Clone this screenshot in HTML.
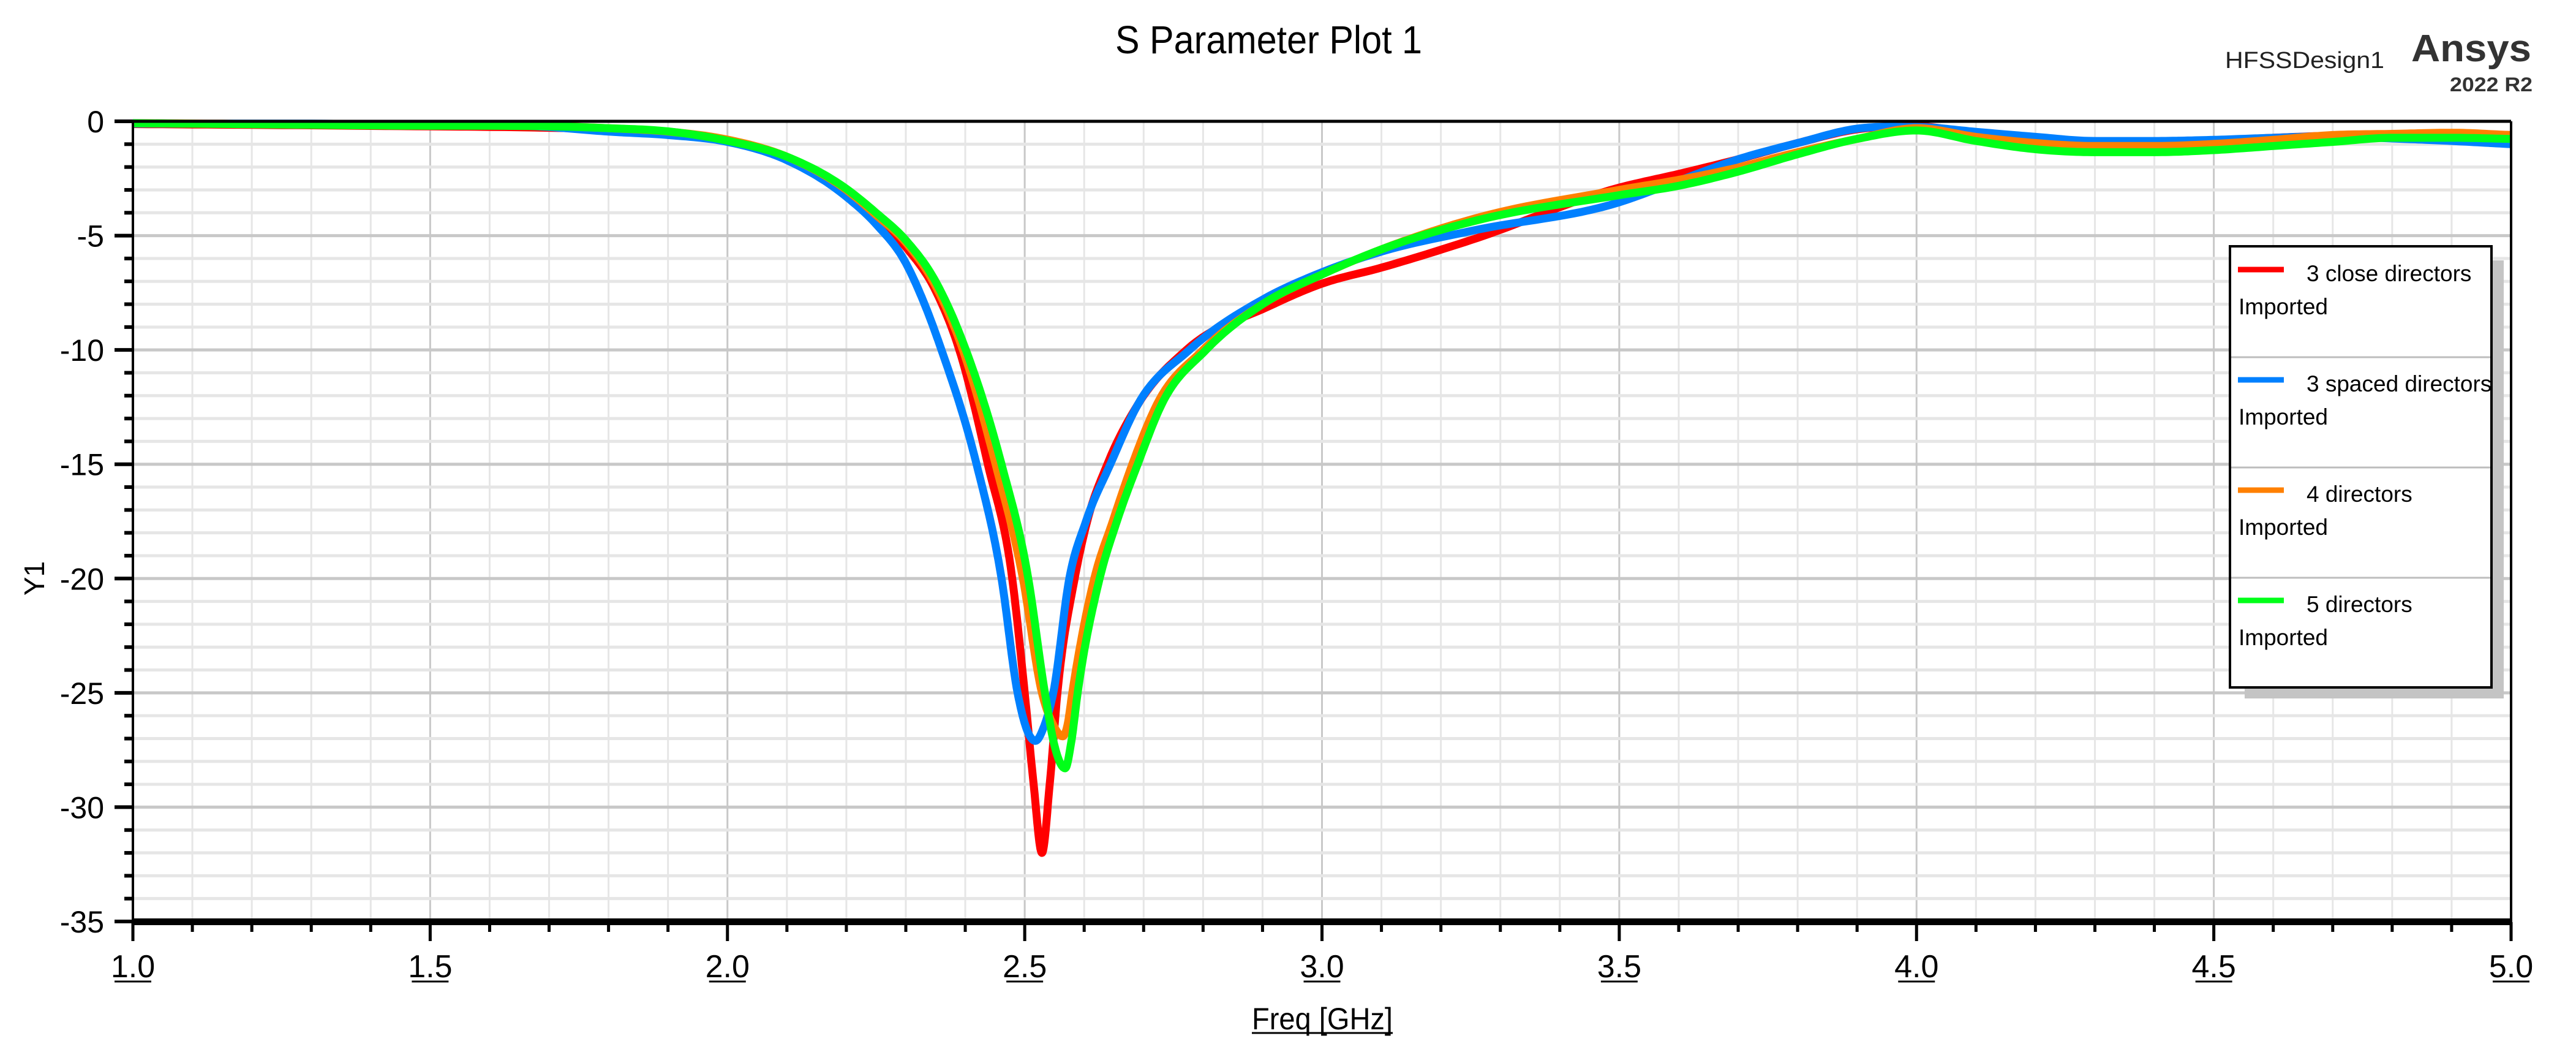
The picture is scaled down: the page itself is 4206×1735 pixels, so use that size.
<!DOCTYPE html>
<html><head><meta charset="utf-8"><style>
html,body{margin:0;padding:0;background:#fff}
svg{display:block}
.n{font-family:"Liberation Sans Narrow","Liberation Sans",sans-serif}
.r{font-family:"Liberation Sans",sans-serif}
</style></head><body>
<svg id="chart" width="4206" height="1735" viewBox="0 0 4206 1735" xmlns="http://www.w3.org/2000/svg">
<rect width="4206" height="1735" fill="#fff"/>
<text class="n" x="1821" y="87" font-size="64" textLength="501" lengthAdjust="spacingAndGlyphs">S Parameter Plot 1</text>
<text class="r" x="3633" y="111" font-size="38" fill="#222" textLength="260" lengthAdjust="spacingAndGlyphs">HFSSDesign1</text>
<text class="r" x="3937" y="100" font-size="62" font-weight="bold" fill="#333" textLength="196" lengthAdjust="spacingAndGlyphs">Ansys</text>
<text class="r" x="4000" y="149" font-size="32" font-weight="bold" fill="#333" textLength="135" lengthAdjust="spacingAndGlyphs">2022 R2</text>
<g id="grid"></g>
<g id="series"></g>
<g id="axes"></g>
<g id="legend"></g>
<text class="n" x="2044" y="1680" font-size="50" textLength="230" lengthAdjust="spacingAndGlyphs">Freq [GHz]</text>
<line x1="2044" y1="1686" x2="2274" y2="1686" stroke="#000" stroke-width="3"/>
<text class="n" font-size="46" transform="translate(72,944) rotate(-90)" text-anchor="middle">Y1</text>
</svg>
<script>
const xTicks=[1.0,1.5,2.0,2.5,3.0,3.5,4.0,4.5,5.0];
const xTickLabels=["1.0","1.5","2.0","2.5","3.0","3.5","4.0","4.5","5.0"];
const yTicks=[0,-5,-10,-15,-20,-25,-30,-35];
const yTickLabels=["0","-5","-10","-15","-20","-25","-30","-35"];
const seriesNames=["3 close directors","3 spaced directors","4 directors","5 directors"];
const seriesColors=["#ff0000","#0080ff","#ff8000","#00ff18"];
const redF=[1.0,1.4,1.8,1.9,2.0,2.1,2.2,2.25,2.3,2.35,2.39,2.438,2.479,2.5,2.515,2.529,2.542,2.555,2.584,2.605,2.639,2.69,2.772,2.91,3.0,3.1,3.25,3.5,3.6,3.7,3.8,3.9,4.0,4.1,4.2,4.3,4.4,4.5,4.6,4.7,4.8,4.9,5.0];
const redV=[-0.12,-0.2,-0.35,-0.45,-0.85,-1.6,-3.1,-4.2,-5.5,-7.4,-10,-15,-20,-25,-29,-32,-29,-25,-20,-17.5,-15,-12.4,-10,-8.1,-7.1,-6.4,-5.2,-2.9,-2.3,-1.66,-0.95,-0.35,-0.22,-0.55,-0.9,-1.0,-0.95,-0.85,-0.72,-0.63,-0.6,-0.55,-0.6];
const blueF=[1.0,1.4,1.7,1.8,1.9,2.0,2.1,2.2,2.25,2.3,2.33,2.36,2.419,2.461,2.488,2.505,2.518,2.532,2.548,2.575,2.603,2.644,2.69,2.777,2.9,3.0,3.1,3.25,3.5,3.6,3.7,3.8,3.9,4.0,4.1,4.2,4.3,4.4,4.5,4.6,4.7,4.8,4.9,5.0];
const blueV=[-0.1,-0.12,-0.25,-0.45,-0.6,-0.9,-1.7,-3.3,-4.5,-6.2,-7.9,-10,-15,-20,-25,-26.7,-27.1,-26.5,-25,-20,-17.5,-15,-12.4,-10,-7.8,-6.6,-5.7,-4.8,-3.54,-2.6,-1.66,-0.95,-0.32,-0.25,-0.46,-0.68,-0.86,-0.86,-0.81,-0.72,-0.65,-0.75,-0.86,-1.0];
const orangeF=[1.0,1.4,1.8,1.9,2.0,2.1,2.2,2.25,2.3,2.35,2.396,2.451,2.497,2.529,2.548,2.564,2.572,2.58,2.617,2.648,2.681,2.722,2.8,2.9,3.0,3.1,3.25,3.5,3.6,3.7,3.8,3.9,4.0,4.1,4.2,4.3,4.4,4.5,4.6,4.7,4.8,4.9,5.0];
const orangeV=[-0.08,-0.15,-0.3,-0.45,-0.8,-1.55,-3.0,-4.1,-5.3,-7.2,-10,-15,-20,-25,-26.4,-26.9,-26.4,-25,-20,-17.5,-15,-12.4,-10,-8,-6.7,-5.6,-4.3,-3.0,-2.56,-2.02,-1.35,-0.77,-0.3,-0.68,-0.95,-1.08,-1.08,-0.99,-0.81,-0.6,-0.55,-0.5,-0.6];
const greenF=[1.0,1.4,1.8,1.9,2.0,2.1,2.2,2.25,2.3,2.35,2.401,2.461,2.506,2.534,2.55,2.568,2.578,2.589,2.626,2.655,2.69,2.73,2.805,2.9,3.0,3.1,3.25,3.5,3.6,3.7,3.8,3.9,4.0,4.1,4.2,4.3,4.4,4.5,4.6,4.7,4.8,4.9,5.0];
const greenV=[-0.08,-0.18,-0.3,-0.44,-0.85,-1.55,-2.95,-4.0,-5.2,-7.0,-10,-15,-20,-25,-27.3,-28.3,-27.2,-25,-20,-17.5,-15,-12.4,-10,-8,-6.7,-5.6,-4.4,-3.23,-2.82,-2.2,-1.44,-0.77,-0.4,-0.86,-1.22,-1.35,-1.35,-1.26,-1.08,-0.9,-0.72,-0.72,-0.77];
const seriesF=[redF,blueF,orangeF,greenF];
const seriesV=[redV,blueV,orangeV,greenV];
const seriesKeys=["red","blue","orange","green"];

const NS="http://www.w3.org/2000/svg";
const X0=217,X1=4100,Y0=198,Y1=1504,FMIN=1,FMAX=5,VMAX=0,VMIN=-35;
function xs(f){return X0+(f-FMIN)/(FMAX-FMIN)*(X1-X0);}
function ys(v){return Y0+(VMAX-v)/(VMAX-VMIN)*(Y1-Y0);}
function mk(tag,attrs,parent){const e=document.createElementNS(NS,tag);for(const k in attrs)e.setAttribute(k,attrs[k]);parent.appendChild(e);return e;}
const grid=document.getElementById('grid'),axes=document.getElementById('axes'),ser=document.getElementById('series'),leg=document.getElementById('legend');
for(let i=0;i<=40;i++){const f=FMIN+i*0.1;const major=i%5===0;
 const l=mk('line',{x1:xs(f),x2:xs(f),y1:Y0,y2:Y1,stroke:major?'#c8c8c8':'#e6e6e6','stroke-width':3},grid);
 
 }
for(let v=0;v>=-35;v--){const major=v%5===0;
 const l=mk('line',{x1:X0,x2:X1,y1:ys(v),y2:ys(v),stroke:major?'#c8c8c8':'#e6e6e6','stroke-width':5},grid);
 
 }
function smooth(F,V){const n=F.length,d=[],m=[];
 for(let i=0;i<n-1;i++)d.push((V[i+1]-V[i])/(F[i+1]-F[i]));
 m[0]=d[0];m[n-1]=d[n-2];
 for(let i=1;i<n-1;i++){const h0=F[i]-F[i-1],h1=F[i+1]-F[i];m[i]=(d[i-1]*d[i]<=0)?0:(d[i-1]*h1+d[i]*h0)/(h0+h1);}
 const pts=[];
 for(let i=0;i<n-1;i++){const h=F[i+1]-F[i];for(let k=0;k<16;k++){const t=k/16,t2=t*t,t3=t2*t;
  const v=(2*t3-3*t2+1)*V[i]+(t3-2*t2+t)*h*m[i]+(-2*t3+3*t2)*V[i+1]+(t3-t2)*h*m[i+1];
  pts.push(xs(F[i]+t*h).toFixed(1)+','+ys(Math.min(v,-0.05)).toFixed(1));}}
 pts.push(xs(F[n-1]).toFixed(1)+','+ys(V[n-1]).toFixed(1));return pts.join(' ');}
for(let s=0;s<4;s++){
 const p=mk('polyline',{points:smooth(seriesF[s],seriesV[s]),fill:'none',stroke:seriesColors[s],'stroke-width':13,'stroke-linejoin':'round'},ser);
 
 }
mk('line',{x1:X0,x2:X0,y1:Y0,y2:Y1,stroke:'#000','stroke-width':4},axes);
mk('line',{x1:X0,x2:X1,y1:Y0,y2:Y0,stroke:'#000','stroke-width':5},axes);
mk('line',{x1:X1,x2:X1,y1:Y0,y2:Y1,stroke:'#000','stroke-width':4},axes);
mk('rect',{x:X0-2,y:1499,width:X1-X0+4,height:11,fill:'#000'},axes);
for(let i=0;i<=40;i++){const f=FMIN+i*0.1;const major=i%5===0;
 const t=mk('line',{x1:xs(f),x2:xs(f),y1:1505,y2:major?1536:1521,stroke:'#000','stroke-width':5},axes);
 
 }
xTicks.forEach((f,i)=>{const t=mk('text',{x:xs(f),y:1595,'text-anchor':'middle','font-size':52,'class':'n'},axes);t.textContent=xTickLabels[i];
 
 
 const u=mk('line',{x1:xs(f)-30,x2:xs(f)+30,y1:1602,y2:1602,stroke:'#000','stroke-width':3},axes);
 
 });
for(let v=0;v>=-35;v--){const major=v%5===0;
 const t=mk('line',{x1:major?187:203,x2:X0,y1:ys(v),y2:ys(v),stroke:'#000','stroke-width':6},axes);
 
 }
yTicks.forEach((v,i)=>{const t=mk('text',{x:170,y:ys(v)+18,'text-anchor':'end','font-size':50,'class':'n'},axes);t.textContent=yTickLabels[i];
 
 });
const sh=mk('rect',{x:3665,y:425,width:423,height:715,fill:'#c4c4c4'},leg);


const box=mk('rect',{x:3641,y:402,width:427,height:720,fill:'#fff',stroke:'#000','stroke-width':4},leg);


for(let i=0;i<4;i++){const oy=180*i;
 if(i>0){const d=mk('line',{x1:3643,x2:4066,y1:403+oy,y2:403+oy,stroke:'#bdbdbd','stroke-width':3},leg);
  
  }
 const g=mk('g',{},leg);
 
 
 mk('line',{x1:3654,x2:3729,y1:440+oy,y2:440+oy,stroke:seriesColors[i],'stroke-width':9},g);
 const a=mk('text',{x:3766,y:459+oy,'font-size':37,'class':'n'},g);a.textContent=seriesNames[i];
 const b=mk('text',{x:3655,y:513+oy,'font-size':37,'class':'n'},g);b.textContent='Imported';}
</script>
</body></html>
